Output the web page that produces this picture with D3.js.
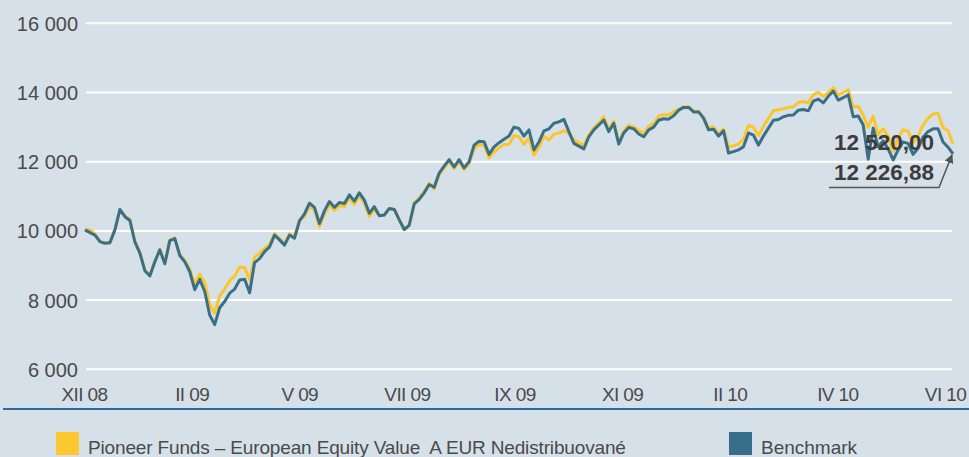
<!DOCTYPE html>
<html><head><meta charset="utf-8">
<script src="https://cdn.jsdelivr.net/npm/d3@7"></script>
<style>
html,body{margin:0;padding:0;background:#d6e0e8;}
svg{display:block;font-family:"Liberation Sans",Arial,sans-serif;}
</style></head>
<body>
<svg id="chart" width="969" height="457"></svg>
<script>
const xLabels = ["XII 08","II 09","V 09","VII 09","IX 09","XI 09","II 10","IV 10","VI 10"];
const yTicks = [6000,8000,10000,12000,14000,16000];
const seriesNames = ["Pioneer Funds – European Equity Value  A EUR Nedistribuované","Benchmark"];
const fundValues = [10030,10030,9910,9690,9650,9670,10050,10600,10440,10330,9700,9380,8870,8720,9130,9470,9070,9740,9800,9320,9140,8900,8450,8750,8500,7870,7630,8120,8320,8570,8690,8950,8940,8590,9235,9350,9500,9610,9920,9780,9630,9920,9830,10330,10410,10720,10600,10120,10490,10760,10590,10730,10700,10950,10770,11010,10800,10420,10620,10440,10460,10650,10620,10320,10040,10170,10820,10950,11140,11380,11210,11620,11820,12010,11800,12010,11770,11950,12380,12490,12480,12110,12280,12400,12500,12500,12760,12720,12500,12680,12190,12420,12740,12630,12790,12830,12900,12820,12630,12550,12470,12780,12980,13120,13300,12930,13170,12570,12890,13050,13010,12900,12820,13020,13100,13320,13360,13350,13450,13510,13590,13590,13460,13460,13280,12980,13000,12800,12950,12420,12460,12510,12650,13050,12990,12760,13020,13250,13480,13500,13530,13570,13580,13720,13740,13700,13940,14000,13890,13990,14140,13930,14000,14080,13580,13600,13340,13000,13320,12780,12950,12720,12300,12690,12920,12880,12560,12740,13060,13250,13380,13400,12980,12900,12520];
const benchValues = [10030,9950,9880,9690,9640,9660,10030,10620,10410,10300,9680,9360,8850,8700,9110,9450,9050,9720,9780,9290,9110,8820,8300,8600,8250,7570,7290,7780,7960,8200,8320,8580,8600,8210,9085,9200,9400,9540,9880,9740,9590,9880,9790,10290,10490,10800,10680,10210,10580,10850,10680,10820,10790,11040,10860,11100,10890,10510,10700,10440,10460,10650,10620,10320,10040,10170,10780,10910,11100,11340,11260,11670,11870,12060,11850,12060,11820,12000,12480,12590,12580,12210,12430,12550,12650,12740,13000,12960,12740,12920,12340,12570,12890,12950,13110,13150,13225,12870,12530,12450,12370,12720,12920,13060,13200,12870,13110,12510,12830,12990,12950,12800,12720,12920,13000,13200,13240,13230,13330,13490,13570,13570,13440,13440,13260,12920,12940,12740,12890,12250,12290,12340,12430,12830,12770,12480,12740,12970,13200,13220,13300,13340,13350,13490,13510,13470,13750,13810,13700,13890,14040,13780,13850,13930,13300,13320,13060,12070,12970,12430,12600,12370,12050,12340,12570,12530,12210,12390,12710,12870,12950,12950,12570,12420,12226.88];
const lastLabels = ["12 520,00","12 226,88"];

const svg = d3.select("#chart");
const W = 969, H = 457;
svg.append("rect").attr("width",W).attr("height",H).attr("fill","#d6e0e8");

const y = d3.scaleLinear().domain([6000,16000]).range([369.3,23.3]);
const xi = d3.scaleLinear().domain([0,benchValues.length-1]).range([85,953]);
const xl = d3.scalePoint().domain(xLabels).range([84,945]);
const fmt = v => d3.format(",")(v).replace(/,/g," ");

// gridlines
svg.append("g").selectAll("line").data(yTicks).join("line")
  .attr("x1",86).attr("x2",952)
  .attr("y1",d=>y(d)).attr("y2",d=>y(d))
  .attr("stroke","#ffffff").attr("stroke-width",2);

// y labels
const yAxis = d3.axisLeft(y).tickValues(yTicks).tickFormat(fmt).tickSize(0).tickPadding(0);
const gy = svg.append("g").attr("transform","translate(78,0)").call(yAxis);
gy.select(".domain").remove();
gy.selectAll("text").attr("font-size",20).attr("fill","#4a4a4a")
  .attr("font-family","'Liberation Sans',Arial,sans-serif").attr("dy","0.35em");

// x labels
const xAxis = d3.axisBottom(xl).tickSize(0).tickPadding(0);
const gx = svg.append("g").attr("transform","translate(0,387)").call(xAxis);
gx.select(".domain").remove();
gx.selectAll("text").attr("font-size",19).attr("fill","#4a4a4a")
  .attr("letter-spacing","-0.6px")
  .attr("font-family","'Liberation Sans',Arial,sans-serif").attr("dy","0.75em");

// bottom rule
svg.append("line").attr("x1",3).attr("x2",969).attr("y1",409).attr("y2",409)
  .attr("stroke","#2f6e9c").attr("stroke-width",2);

// lines
const line = d3.line().x((d,i)=>xi(i)).y(d=>y(d));
svg.append("path").datum(fundValues).attr("d",line).attr("fill","none")
  .attr("stroke","#fcc62b").attr("stroke-width",3).attr("stroke-linejoin","round");
svg.append("path").datum(benchValues).attr("d",line).attr("fill","none")
  .attr("stroke","#3a6f88").attr("stroke-width",3).attr("stroke-linejoin","round");

// annotations
const ann = svg.append("g").attr("font-family","'Liberation Sans',Arial,sans-serif")
  .attr("font-weight","bold").attr("font-size",22.5).attr("fill","#3c3c3c").attr("text-anchor","end");
ann.append("text").attr("x",934).attr("y",150).text(lastLabels[0]);
ann.append("text").attr("x",934).attr("y",180).text(lastLabels[1]);

const n = benchValues.length-1;
const tipX = xi(n)-1, tipY = y(benchValues[n])+1;
svg.append("defs").append("marker").attr("id","arr").attr("viewBox","0 0 10 10")
  .attr("refX",9).attr("refY",5).attr("markerWidth",6).attr("markerHeight",6)
  .attr("orient","auto").append("path").attr("d","M0,0L10,5L0,10z").attr("fill","#555");
svg.append("path").attr("d",`M829,187.5L939,187.5L${tipX},${tipY}`)
  .attr("fill","none").attr("stroke","#555").attr("stroke-width",1.5)
  .attr("marker-end","url(#arr)");

// legend
const leg = svg.append("g").attr("font-family","'Liberation Sans',Arial,sans-serif")
  .attr("font-size",19).attr("fill","#4a4a4a");
const legX = [56,729];
const legC = ["#fdc82f","#376e8a"];
seriesNames.forEach((s,i)=>{
  leg.append("rect").attr("x",legX[i]).attr("y",432).attr("width",23).attr("height",23).attr("fill",legC[i]);
  leg.append("text").attr("x",legX[i]+32).attr("y",454).style("white-space","pre")
    .attr("letter-spacing", i===0 ? "-0.15px" : "0px").text(s);
});
</script>
</body></html>
